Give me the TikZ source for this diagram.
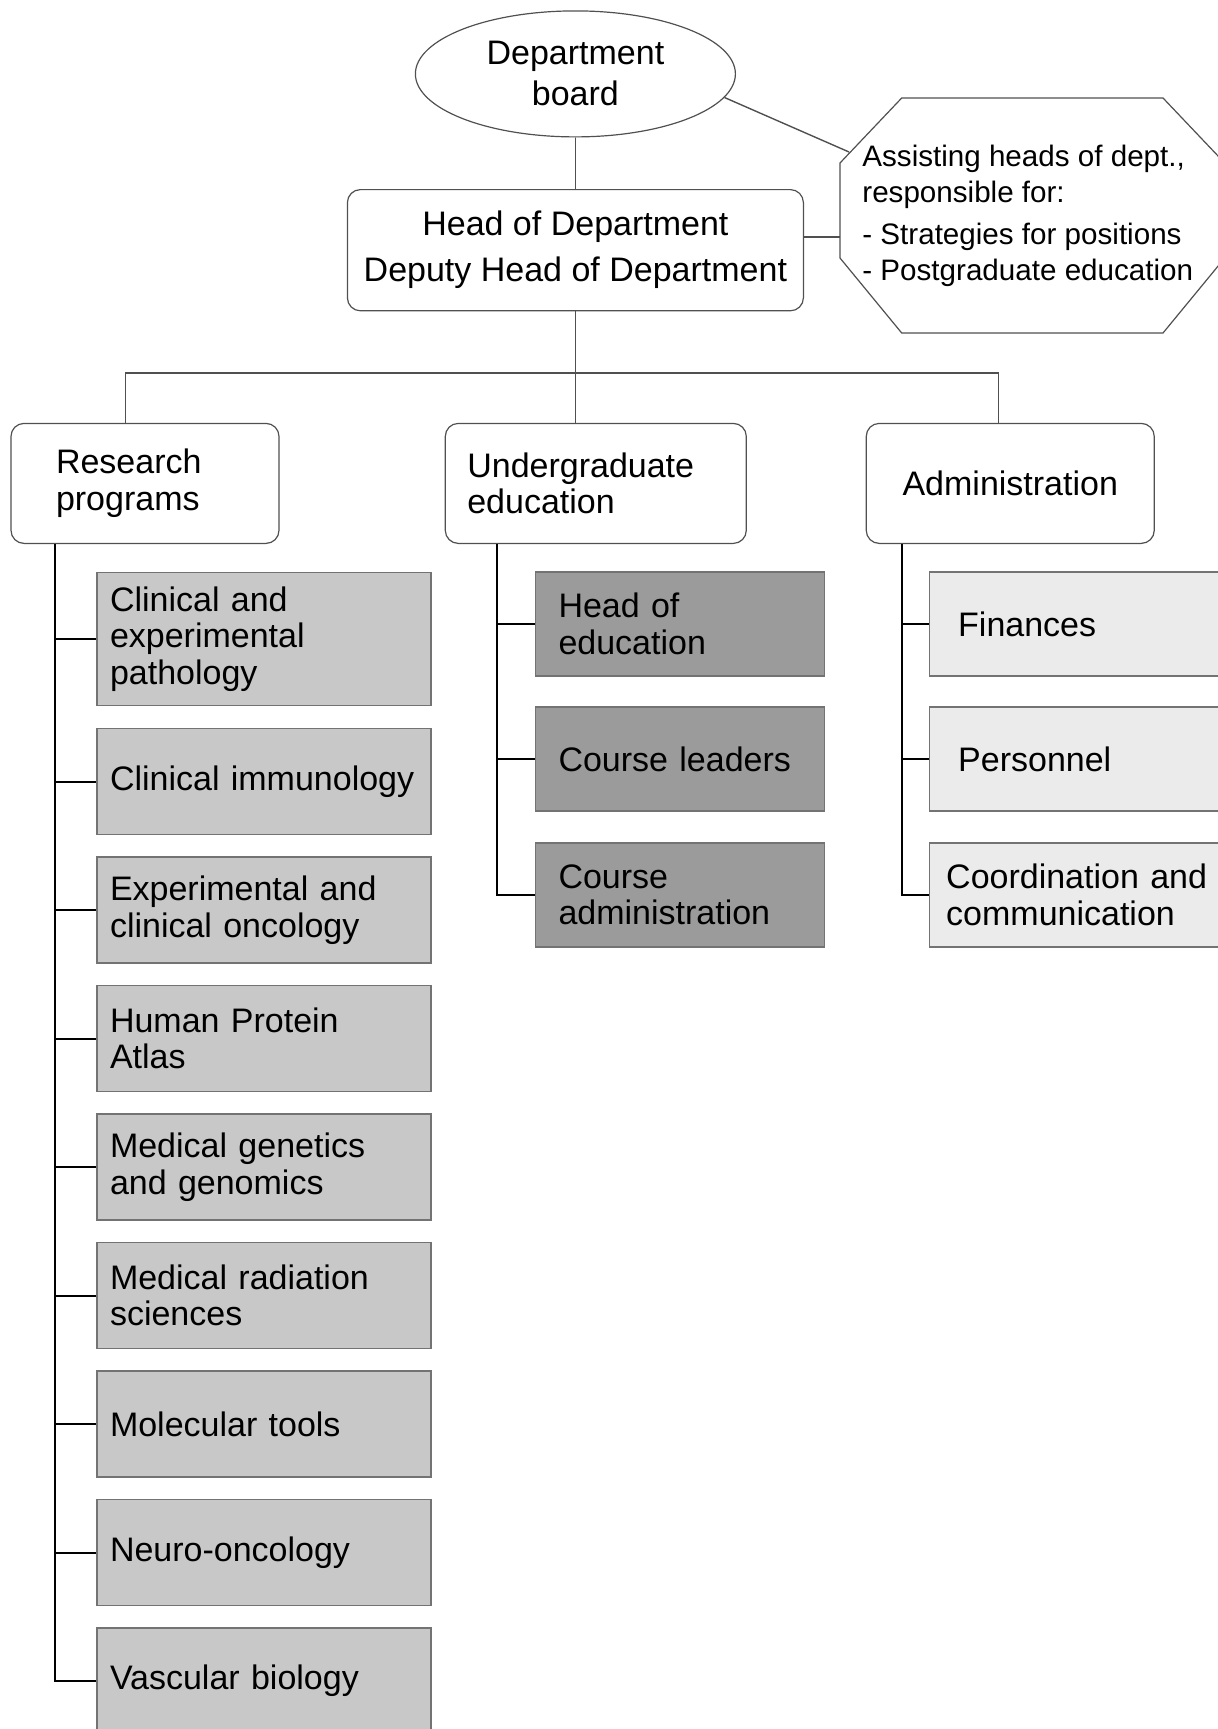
\documentclass[tikz,border=0pt]{standalone}
\usepackage{fontspec}
\setmainfont{Liberation Sans}
\usetikzlibrary{shapes.geometric, calc}

\definecolor{linegray}{RGB}{80,80,80}
\definecolor{boxgray}{RGB}{115,115,115}
\definecolor{resfill}{RGB}{200,200,200}
\definecolor{edufill}{RGB}{155,155,155}
\definecolor{admfill}{RGB}{235,235,235}

\tikzset{
  board/.style={ellipse, draw=linegray, line width=0.6pt, minimum width=160pt, minimum height=63pt,
    inner sep=0pt, align=center, font=\fontsize{17}{20.5}\selectfont},
  headbox/.style={rectangle, rounded corners=6.5pt, draw=linegray, line width=0.6pt, minimum width=228pt,
    minimum height=60.6pt, inner sep=0pt, align=center, font=\fontsize{17}{23}\selectfont},
  topbox/.style={rectangle, rounded corners=6.5pt, draw=linegray, line width=0.6pt, minimum height=60pt,
    inner ysep=0pt, align=left, font=\fontsize{17}{18.2}\selectfont},
  subbox/.style={rectangle, draw=boxgray, line width=0.7pt, inner ysep=0pt, align=left,
    font=\fontsize{17}{18.2}\selectfont},
  resbox/.style={subbox, fill=resfill, minimum height=53pt, text width=154pt, inner xsep=6.5pt},
  edubox/.style={subbox, fill=edufill, minimum height=52pt, text width=121.5pt, inner xsep=11.5pt},
  admbox/.style={subbox, fill=admfill, minimum height=52pt, text width=121pt, inner xsep=14.5pt},
  conn/.style={draw=linegray, line width=0.7pt},
  branch/.style={draw=black, line width=1pt}
}

\begin{document}
\begin{tikzpicture}[x=0.5pt, y=-0.5pt]
\useasboundingbox (0,0) rectangle (1218,1729);
\clip (0,0) rectangle (1218,1729);

% Top of the chart
\node[board] (board) at (575.4,73.9) {Department\\board};
\node[headbox] (head) at (575.4,250.2) {Head of Department\\Deputy Head of Department};

% Assisting heads (octagon drawn by hand)
\draw[line width=0.6pt, draw=linegray, fill=white]
  (901.7,98) -- (1163,98) -- (1224.7,163) -- (1224.7,258) -- (1163,333)
  -- (901.7,333) -- (840,258) -- (840,163) -- cycle;
\node[anchor=west, align=left, inner sep=0pt, font=\fontsize{14.8}{18}\selectfont] (assist) at (862,216)
  {Assisting heads of dept.,\\responsible for:\\[3pt]- Strategies for positions\\- Postgraduate education};
\coordinate (octhit) at (849,152);
\coordinate (octwest) at (840,237);

\draw[conn] (board.south) -- (head.north);
\draw[conn] (board.-9) -- (octhit);
\draw[conn] (octwest) -- (octwest -| head.east);

% Three main units
\node[topbox, text width=89pt, inner xsep=22.5pt] (research) at (145,483.4) {Research\\programs};
\node[topbox, text width=128.5pt, inner xsep=11pt] (undergrad) at (595.8,483.4) {Undergraduate\\education};
\node[topbox, text width=144pt, inner xsep=0pt, align=center] (admin) at (1010.25,483.4) {Administration};

\coordinate (bus) at ($(head.south)+(0,61.5)$);
\draw[conn] (head.south) -- (head.south |- undergrad.north);
\draw[conn] ([xshift=-9.65pt]research.north) |- (bus) -| ([xshift=-5.8pt]admin.north);

% Research programs
\node[resbox, minimum height=66.7pt] (res1) at (264,639) {Clinical and\\experimental\\pathology};
\foreach \n/\y/\txt in {2/781.5/{Clinical immunology},
                        3/910/{Experimental and\\clinical oncology},
                        4/1038.5/{Human Protein\\Atlas},
                        5/1167/{Medical genetics\\and genomics},
                        6/1295.5/{Medical radiation\\sciences},
                        7/1424/{Molecular tools},
                        8/1552.5/{Neuro-oncology},
                        9/1681/{Vascular biology}}
    \node[resbox] (res\n) at (264,\y) {\txt};

\coordinate (rtrunk) at ([xshift=-44.95pt]research.south);
\draw[branch] (rtrunk) |- (res9.west);
\foreach \n in {1,...,8}
    \draw[branch] (res\n.west) -- (res\n.west -| rtrunk);

% Undergraduate education
\foreach \n/\y/\txt in {1/624/{Head of\\education},
                        2/759/{Course leaders},
                        3/895/{Course\\administration}}
    \node[edubox] (edu\n) at (680,\y) {\txt};

\coordinate (etrunk) at ([xshift=-49.35pt]undergrad.south);
\draw[branch] (etrunk) |- (edu3.west);
\foreach \n in {1,2}
    \draw[branch] (edu\n.west) -- (edu\n.west -| etrunk);

% Administration
\node[admbox] (adm1) at (1079.2,624) {Finances};
\node[admbox] (adm2) at (1079.2,759) {Personnel};
\node[admbox, text width=133pt, inner xsep=8.5pt] (adm3) at (1079.2,895) {Coordination and\\communication};

\coordinate (atrunk) at ([xshift=-54.3pt]admin.south);
\draw[branch] (atrunk) |- (adm3.west);
\foreach \n in {1,2}
    \draw[branch] (adm\n.west) -- (adm\n.west -| atrunk);

\end{tikzpicture}
\end{document}
